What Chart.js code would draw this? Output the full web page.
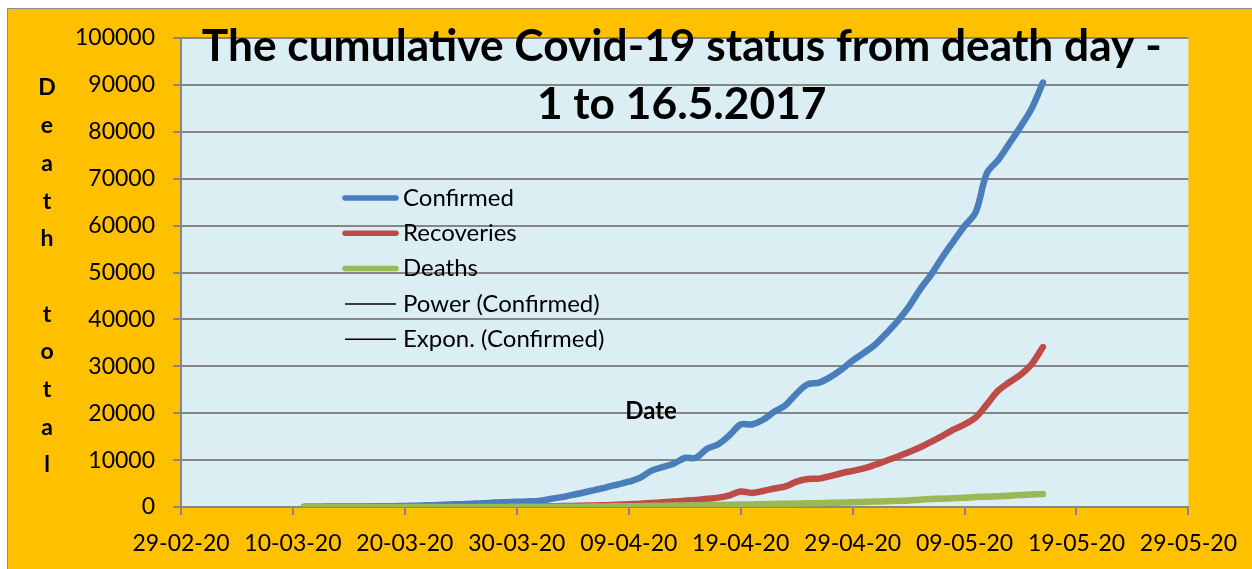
<!DOCTYPE html>
<html>
<head>
<meta charset="utf-8">
<script src="https://cdn.jsdelivr.net/npm/chart.js@4.4.0/dist/chart.umd.min.js"></script>
<style>
  body { margin: 0; background: #fff; }
  #frame {
    position: absolute; left: 7px; top: 8px; width: 1245px; height: 561px;
    background: #FFC000; border-left: 1px solid #8c8c8c; border-top: 1px solid #8c8c8c;
    box-sizing: border-box;
  }
  #wrap { position: absolute; left: 0; top: 0; width: 1252px; height: 569px; }
</style>
</head>
<body>
<div id="frame"></div>
<div id="wrap"><canvas id="myChart" width="1252" height="569"></canvas></div>
<script>
const xTickLabels = ["29-02-20", "10-03-20", "20-03-20", "30-03-20", "09-04-20",
  "19-04-20", "29-04-20", "09-05-20", "19-05-20", "29-05-20"];
// first value is for 11-03-20, counted in days from 29-02-20
const firstDay = 11;

const confirmed = [
  60, 70, 80, 90, 110, 120, 140, 160, 180, 230,
  290, 360, 420, 520, 610, 700, 800, 950, 1030, 1100,
  1180, 1300, 1700, 2100, 2600, 3100, 3650, 4200, 4800, 5400,
  6200, 7700, 8500, 9200, 10450, 10500, 12400, 13400, 15300, 17600,
  17600, 18600, 20300, 21700, 24200, 26200, 26500, 27700, 29300, 31200,
  32850, 34600, 37000, 39600, 42600, 46300, 49500, 53200, 56600, 59900,
  62900, 71200, 74000, 77500, 81100, 85000, 90500
];
const recoveries = [
  4, 4, 4, 10, 13, 13, 14, 14, 15, 20,
  23, 23, 24, 34, 40, 45, 67, 75, 86, 100,
  102, 148, 151, 191, 229, 270, 330, 400, 480, 600,
  700, 850, 1000, 1150, 1350, 1500, 1750, 2000, 2500, 3300,
  3000, 3400, 3950, 4400, 5400, 5950, 6050, 6600, 7200, 7700,
  8220, 9000, 9860, 10700, 11700, 12690, 13900, 15100, 16500, 17600,
  19100, 21900, 24800, 26600, 28200, 30500, 34100
];
const deaths = [
  1, 1, 2, 2, 2, 2, 3, 3, 4, 4,
  4, 7, 9, 10, 10, 16, 17, 19, 25, 29,
  32, 35, 50, 56, 68, 77, 109, 124, 149, 166,
  199, 239, 273, 308, 339, 377, 414, 452, 488, 519,
  559, 603, 652, 686, 723, 779, 826, 881, 934, 1007,
  1075, 1152, 1223, 1306, 1389, 1568, 1694, 1783, 1886, 1981,
  2109, 2206, 2293, 2415, 2549, 2649, 2752
];

const titleLines = ["The cumulative Covid-19 status from death day -", "1 to 16.5.2017"];
const yTitle = "Death total";
const xTitle = "Date";

Chart.defaults.font.family = "Lato";

function toPoints(values) {
  return values.map((v, i) => ({ x: firstDay + i, y: v }));
}

const plotBackground = {
  id: "plotBackground",
  beforeDraw(chart) {
    const { ctx, chartArea: a } = chart;
    ctx.save();
    ctx.fillStyle = "#DBEEF4";
    ctx.fillRect(a.left, a.top, a.right - a.left, a.bottom - a.top);
    ctx.restore();
  }
};

const overlayText = {
  id: "overlayText",
  afterDraw(chart) {
    const { ctx, chartArea: a } = chart;
    ctx.save();
    ctx.fillStyle = "#000";

    // title, drawn over the plot area like the original
    ctx.font = "bold 40px Lato";
    const size = 40 * 960 / ctx.measureText(titleLines[0]).width;
    ctx.font = "bold " + size + "px Lato";
    ctx.textAlign = "center";
    ctx.textBaseline = "alphabetic";
    const cx = (a.left + a.right) / 2 - 3;
    ctx.fillText(titleLines[0], cx, 61);
    ctx.fillText(titleLines[1], cx, 119);

    // x title sits inside the plot
    ctx.font = "bold 24px Lato";
    ctx.textBaseline = "middle";
    ctx.fillText(xTitle, 651, 411);

    // y title, one letter per row
    ctx.font = "bold 23px Lato";
    yTitle.split("").forEach((ch, i) => {
      ctx.fillText(ch, 47, 88 + i * 37.7);
    });

    // legend
    ctx.textAlign = "left";
    ctx.font = "24px Lato";
    chart.data.datasets.forEach((ds, i) => {
      const y = 198 + i * 35.3;
      ctx.beginPath();
      ctx.strokeStyle = ds.borderColor;
      ctx.lineWidth = ds.legendWidth;
      ctx.lineCap = ds.legendWidth > 2 ? "round" : "butt";
      ctx.moveTo(345, y);
      ctx.lineTo(396, y);
      ctx.stroke();
      ctx.fillText(ds.label, 403, y);
    });
    ctx.restore();
  }
};

const lineStyle = {
  borderWidth: 6.5,
  pointRadius: 0,
  tension: 0.35,
  borderCapStyle: "round",
  borderJoinStyle: "round",
  legendWidth: 5.5
};

const data = {
  datasets: [
    { label: "Confirmed", data: toPoints(confirmed), borderColor: "#4A7EBB", order: 2, ...lineStyle },
    { label: "Recoveries", data: toPoints(recoveries), borderColor: "#BE4B48", order: 1, ...lineStyle },
    { label: "Deaths", data: toPoints(deaths), borderColor: "#98B954", order: 0, ...lineStyle },
    { label: "Power (Confirmed)", data: [], borderColor: "#000", borderWidth: 1.5, pointRadius: 0, legendWidth: 1.5 },
    { label: "Expon. (Confirmed)", data: [], borderColor: "#000", borderWidth: 1.5, pointRadius: 0, legendWidth: 1.5 }
  ]
};

const config = {
  type: "line",
  data: data,
  options: {
    responsive: false,
    animation: false,
    layout: { padding: { left: 20, top: 38, right: 62, bottom: 0 } },
    plugins: { legend: { display: false }, tooltip: { enabled: false }, title: { display: false } },
    scales: {
      x: {
        type: "linear",
        min: 0,
        max: 90,
        afterFit(scale) { scale.height = 62; },
        ticks: {
          stepSize: 10,
          autoSkip: false,
          maxRotation: 0,
          padding: 15,
          color: "#000",
          font: { size: 23 },
          callback: (v, i) => xTickLabels[i]
        },
        grid: { drawOnChartArea: false, tickLength: 8, color: "#868686", lineWidth: 2 },
        border: { color: "#868686", width: 2 }
      },
      y: {
        min: 0,
        max: 100000,
        afterFit(scale) { scale.width = 161; },
        ticks: {
          stepSize: 10000,
          padding: 18,
          color: "#000",
          font: { size: 23 },
          callback: (v) => String(v)
        },
        grid: { tickLength: 8, color: "#868686", lineWidth: 2 },
        border: { color: "#868686", width: 2 }
      }
    }
  },
  plugins: [plotBackground, overlayText]
};

let myChart = new Chart(document.getElementById("myChart"), config);
</script>
</body>
</html>
